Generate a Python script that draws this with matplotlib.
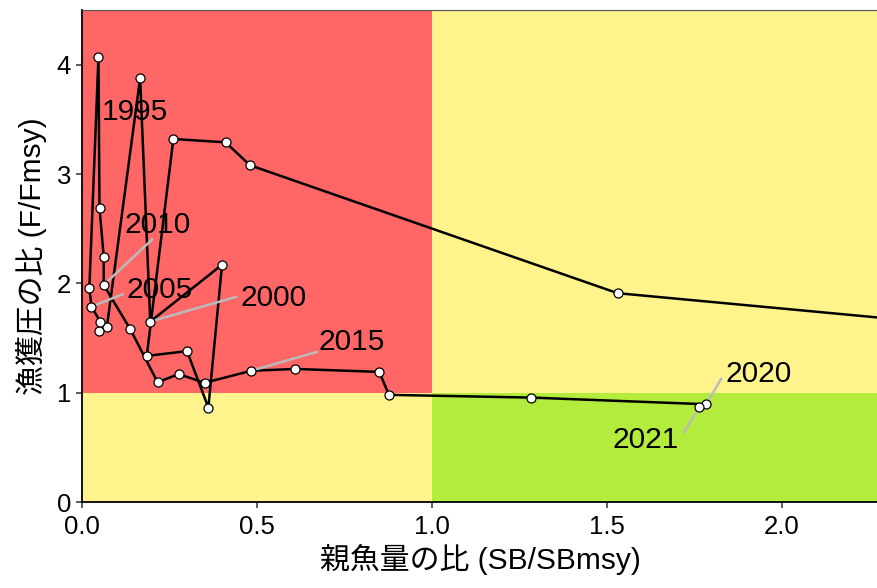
import matplotlib
matplotlib.use("Agg")
import matplotlib.pyplot as plt
from matplotlib.patches import Rectangle

plt.rcParams['font.family'] = ['Liberation Sans', 'Noto Sans CJK JP', 'DejaVu Sans']

# data: SB/SBmsy and F/Fmsy by year (1991 lies off the right edge)
years = list(range(1991, 2022))
sb_ratio = [2.60, 1.53, 0.48, 0.41, 0.261, 0.185, 0.30, 0.361, 0.40, 0.195,
            0.166, 0.071, 0.048, 0.052, 0.027, 0.021, 0.047, 0.050, 0.062, 0.062,
            0.138, 0.216, 0.276, 0.35, 0.483, 0.609, 0.849, 0.877, 1.283, 1.783,
            1.764]
f_ratio = [1.59, 1.91, 3.08, 3.29, 3.32, 1.336, 1.38, 0.863, 2.17, 1.65,
           3.876, 1.60, 1.56, 1.65, 1.787, 1.955, 4.07, 2.69, 2.245, 1.985,
           1.58, 1.095, 1.17, 1.09, 1.20, 1.217, 1.19, 0.98, 0.955, 0.894,
           0.869]

label_years = [1995, 2000, 2005, 2010, 2015, 2020, 2021]
label_xy = [(0.151, 3.57), (0.546, 1.87), (0.221, 1.94), (0.216, 2.53),
            (0.77, 1.465), (1.934, 1.17), (1.609, 0.567)]
seg_start = [None, (0.44, 1.876), (0.116, 1.90), (0.20, 2.40),
             (0.671, 1.373), (1.826, 1.126), (1.72, 0.64)]

xmax = 2.274
ymax = 4.5

fig = plt.figure(figsize=(8.78, 5.88), dpi=100)
ax = fig.add_axes([82 / 878, 86 / 588, 1 - 82 / 878, (502 - 10) / 588])

# kobe zones
ax.add_patch(Rectangle((0, 1), 1, ymax, color='#FF6666', lw=0, zorder=0))
ax.add_patch(Rectangle((1, 1), 5, ymax, color='#FFF48C', lw=0, zorder=0))
ax.add_patch(Rectangle((0, 0), 1, 1, color='#FFF48C', lw=0, zorder=0))
ax.add_patch(Rectangle((1, 0), 5, 1, color='#B3EC3C', lw=0, zorder=0))

ax.plot(sb_ratio, f_ratio, color='black', lw=1.8, zorder=3)
ax.plot(sb_ratio, f_ratio, 'o', ms=6.5, mfc='white', mec='black', mew=0.9, zorder=4)

for yr, (tx, ty), s in zip(label_years, label_xy, seg_start):
    i = years.index(yr)
    if s is not None:
        ax.plot([s[0], sb_ratio[i]], [s[1], f_ratio[i]], color='#BBBBBB', lw=1.8, zorder=3.5)
    ax.text(tx, ty, str(yr), fontsize=21.5, ha='center', va='center', zorder=5)

ax.set_xlim(0, xmax)
ax.set_ylim(0, ymax)
ax.set_xticks([0.0, 0.5, 1.0, 1.5, 2.0])
ax.set_xticklabels(['0.0', '0.5', '1.0', '1.5', '2.0'])
ax.set_yticks([0, 1, 2, 3, 4])
ax.tick_params(labelsize=18.5, length=4, width=1.1, color='#333333', labelcolor='black')
ax.tick_params(axis='x', pad=5)
ax.tick_params(axis='y', pad=4)

for side in ['left', 'bottom']:
    ax.spines[side].set_color('black')
    ax.spines[side].set_linewidth(1.3)
ax.spines['top'].set_color('#555555')
ax.spines['top'].set_linewidth(0.8)
ax.spines['right'].set_visible(False)

ax.set_xlabel('親魚量の比 (SB/SBmsy)', fontsize=21.5, labelpad=4)
ax.set_ylabel('漁獲圧の比 (F/Fmsy)', fontsize=21.5, labelpad=7)

fig.savefig('out.png', dpi=100)
